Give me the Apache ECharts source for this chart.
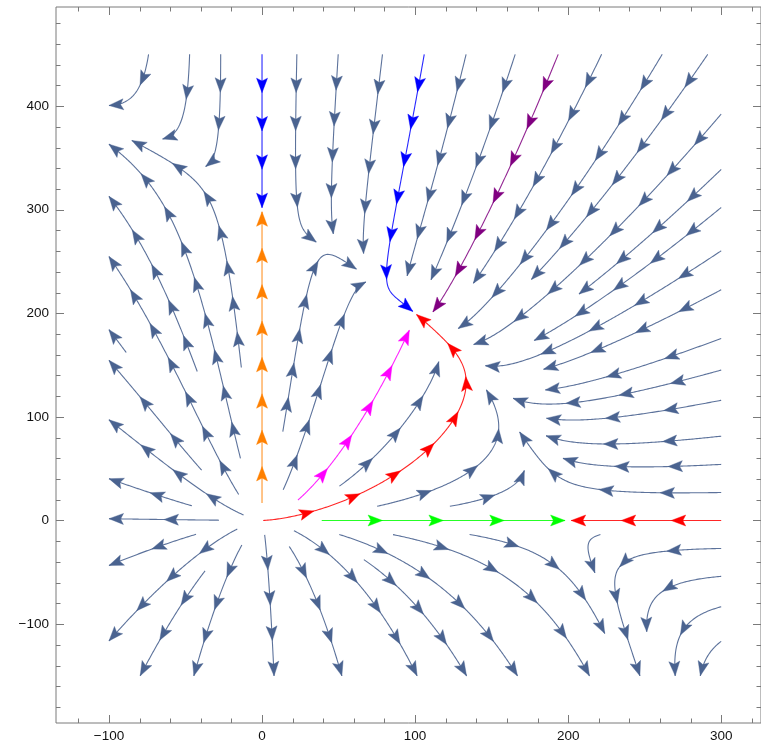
<!DOCTYPE html>
<html><head><meta charset="utf-8">
<script src="https://cdn.jsdelivr.net/npm/echarts@6/dist/echarts.min.js"></script>
<style>html,body{margin:0;padding:0;background:#fff}#chart{width:761px;height:748px}</style>
</head><body><div id="chart"></div>
<script>
// ---------------- data ----------------
const xTickValues = [-100, 0, 100, 200, 300];
const yTickValues = [-100, 0, 100, 200, 300, 400];
const xMinorTickValues = [-120, -80, -60, -40, -20, 20, 40, 60, 80, 120, 140, 160, 180, 220, 240, 260, 280, 320];
const yMinorTickValues = [-180, -160, -140, -120, -80, -60, -40, -20, 20, 40, 60, 80, 120, 140, 160, 180, 220, 240, 260, 280, 320, 340, 360, 380, 420, 440, 460, 480];
const xRange = [-134.6, 326.0];
const yRange = [-195.5, 495.7];
const fieldDomainX = [-100, 300];
const fieldDomainY = [-150, 450];
// competition field  x' = r1 x (1-(x+a12 y)/K1),  y' = r2 y (1-(y+a21 x)/K2)
const growthRates = [1, 1.5];
const carryingCapacities = [200, 300];
const competitionCoefs = [0.5, 1.0];
const equilibriaX = [0, 200, 0, 100];
const equilibriaY = [0, 0, 300, 200];
// highlighted stream points
const highlightSeedX = [0, 0, 106, 193.5, 26, 300, 39, 23.5];
const highlightSeedY = [17, 450, 450, 450, 6, 0, 0, 19.8];
const highlightBackLen = [0, 0, 0, 0, 40, 0, 0, 0];
const highlightMaxLen = [400, 400, 400, 262, 600, 200, 200, 180];
const highlightColors = ['#ff8000', '#0000ff', '#0000ff', '#800080', '#ff0000', '#ff0000', '#00ff00', '#ff00ff'];
const streamColor = '#4a6390';

// ---------------- streamline computation ----------------
const DX0 = fieldDomainX[0], DX1 = fieldDomainX[1], DY0 = fieldDomainY[0], DY1 = fieldDomainY[1];
const DSEP = 27, DTEST = 13.5, H = 1.0, EQ_GRAY = 8, ARROW_GAP = 36, MINLEN = 4;

function vel(x, y) {
  return [growthRates[0] * x * (1 - (x + competitionCoefs[0] * y) / carryingCapacities[0]),
          growthRates[1] * y * (1 - (y + competitionCoefs[1] * x) / carryingCapacities[1])];
}
function unitDir(x, y, s) {
  const v = vel(x, y); const m = Math.hypot(v[0], v[1]);
  if (m < 1e-12) return null;
  return [s * v[0] / m, s * v[1] / m];
}
function inside(x, y) { return x >= DX0 - 1e-9 && x <= DX1 + 1e-9 && y >= DY0 - 1e-9 && y <= DY1 + 1e-9; }
function nearEq(x, y, r) {
  for (let i = 0; i < equilibriaX.length; i++) {
    if (Math.hypot(x - equilibriaX[i], y - equilibriaY[i]) < r) return true;
  }
  return false;
}
const CELL = DSEP;
const hash = new Map();
function ck(i, j) { return i + ',' + j; }
function addLine(pts, id) {
  for (const p of pts) {
    const k = ck(Math.floor(p[0] / CELL), Math.floor(p[1] / CELL));
    let a = hash.get(k); if (!a) { a = []; hash.set(k, a); }
    a.push(p[0], p[1], id);
  }
}
function tooClose(x, y, d, selfId) {
  const ix = Math.floor(x / CELL), iy = Math.floor(y / CELL), d2 = d * d;
  for (let i = ix - 1; i <= ix + 1; i++) for (let j = iy - 1; j <= iy + 1; j++) {
    const a = hash.get(ck(i, j)); if (!a) continue;
    for (let k = 0; k < a.length; k += 3) {
      if (a[k + 2] === selfId) continue;
      const dx = a[k] - x, dy = a[k + 1] - y;
      if (dx * dx + dy * dy < d2) return true;
    }
  }
  return false;
}
function trace(sx, sy, sgn, maxLen, eqR, checkId) {
  const pts = [[sx, sy]]; let x = sx, y = sy, len = 0;
  while (len < maxLen) {
    const d1 = unitDir(x, y, sgn); if (!d1) break;
    const d2 = unitDir(x + 0.5 * H * d1[0], y + 0.5 * H * d1[1], sgn); if (!d2) break;
    if (d1[0] * d2[0] + d1[1] * d2[1] < 0.3) break;
    let nx = x + H * d2[0], ny = y + H * d2[1];
    if (!inside(nx, ny)) {
      let t = 1;
      if (nx < DX0) t = Math.min(t, (DX0 - x) / (nx - x));
      if (nx > DX1) t = Math.min(t, (DX1 - x) / (nx - x));
      if (ny < DY0) t = Math.min(t, (DY0 - y) / (ny - y));
      if (ny > DY1) t = Math.min(t, (DY1 - y) / (ny - y));
      nx = x + t * (nx - x); ny = y + t * (ny - y);
      if (checkId === null || !tooClose(nx, ny, DTEST, checkId)) pts.push([nx, ny]);
      break;
    }
    if (nearEq(nx, ny, eqR)) break;
    if (checkId !== null && tooClose(nx, ny, DTEST, checkId)) break;
    pts.push([nx, ny]); x = nx; y = ny; len += H;
  }
  return pts;
}
function lineLen(pts) { let L = 0; for (let i = 1; i < pts.length; i++) L += Math.hypot(pts[i][0] - pts[i - 1][0], pts[i][1] - pts[i - 1][1]); return L; }

// highlighted lines
const highlightLines = [];
for (let i = 0; i < highlightSeedX.length; i++) {
  const f = trace(highlightSeedX[i], highlightSeedY[i], 1, highlightMaxLen[i], 1.5, null);
  let pts = f;
  if (highlightBackLen[i] > 0) {
    const b = trace(highlightSeedX[i], highlightSeedY[i], -1, highlightBackLen[i], 0.6, null);
    pts = b.reverse().concat(f.slice(1));
  }
  highlightLines.push(pts);
  addLine(pts, i);
}

// evenly spaced gray streamlines
const grayLines = [];
let nextId = 100;
function trySeed(s) {
  if (!inside(s[0], s[1])) return null;
  if (nearEq(s[0], s[1], EQ_GRAY * 1.5)) return null;
  if (tooClose(s[0], s[1], DSEP * 0.99, -1)) return null;
  const id = nextId++;
  const f = trace(s[0], s[1], 1, 3000, EQ_GRAY, id);
  const b = trace(s[0], s[1], -1, 3000, EQ_GRAY, id);
  const pts = b.reverse().concat(f.slice(1));
  if (lineLen(pts) < MINLEN) return null;
  addLine(pts, id); grayLines.push(pts);
  return pts;
}
function seedsFrom(pts) {
  const out = [];
  for (let i = 0; i < pts.length; i += 3) {
    const a = pts[Math.max(0, i - 1)], b = pts[Math.min(pts.length - 1, i + 1)];
    let tx = b[0] - a[0], ty = b[1] - a[1]; const m = Math.hypot(tx, ty);
    if (m < 1e-9) continue; tx /= m; ty /= m;
    out.push([pts[i][0] - ty * DSEP, pts[i][1] + tx * DSEP], [pts[i][0] + ty * DSEP, pts[i][1] - tx * DSEP]);
  }
  return out;
}
function processQueue(queue) {
  while (queue.length) {
    const L = queue.shift();
    for (const s of seedsFrom(L)) { const r = trySeed(s); if (r) queue.push(r); }
  }
}
processQueue(highlightLines.slice());
for (let x = DX0; x <= DX1; x += DSEP / 3) for (let y = DY0; y <= DY1; y += DSEP / 3) {
  const r = trySeed([x, y]); if (r) processQueue([r]);
}

// arrows
function pointAt(pts, cum, s) {
  let i = 1; while (i < pts.length - 1 && cum[i] < s) i++;
  const seg = cum[i] - cum[i - 1]; const t = seg > 0 ? (s - cum[i - 1]) / seg : 0;
  return [pts[i - 1][0] + t * (pts[i][0] - pts[i - 1][0]), pts[i - 1][1] + t * (pts[i][1] - pts[i - 1][1])];
}
function arrowsFor(pts, colorIdx, out) {
  if (pts.length < 2) return;
  const cum = [0];
  for (let i = 1; i < pts.length; i++) cum.push(cum[i - 1] + Math.hypot(pts[i][0] - pts[i - 1][0], pts[i][1] - pts[i - 1][1]));
  const L = cum[cum.length - 1]; if (L <= 0.5) return;
  const n = Math.max(1, Math.round(L / ARROW_GAP));
  for (let k = 1; k <= n; k++) {
    const s = L * k / n;
    const tip = pointAt(pts, cum, s), back = pointAt(pts, cum, Math.max(0, s - 4));
    out.push([tip[0], tip[1], back[0], back[1], colorIdx]);
  }
}
const arrowData = [];
grayLines.forEach(p => arrowsFor(p, -1, arrowData));
highlightLines.forEach((p, i) => arrowsFor(p, i, arrowData));

const tickData = [];
xTickValues.forEach(v => tickData.push([v, 0, 1]));
xMinorTickValues.forEach(v => tickData.push([v, 0, 0]));
yTickValues.forEach(v => tickData.push([v, 1, 1]));
yMinorTickValues.forEach(v => tickData.push([v, 1, 0]));

function fmt(v) { return v < 0 ? '\u2212' + Math.abs(v) : String(v); }

// ---------------- chart ----------------
const chart = echarts.init(document.getElementById('chart'), null, { renderer: 'canvas' });
const AL = 14.5, AW = 11;
chart.setOption({
  animation: false,
  backgroundColor: '#ffffff',
  grid: { left: 56, right: -1, top: 7, bottom: 25, show: true, borderColor: '#7a7a7a', borderWidth: 1, backgroundColor: 'transparent' },
  xAxis: {
    type: 'value', min: xRange[0], max: xRange[1],
    axisLine: { show: false }, axisTick: { show: false }, splitLine: { show: false },
    axisLabel: { customValues: xTickValues, formatter: v => (xTickValues.includes(v) ? fmt(v) : ''), color: '#111', fontFamily: 'Liberation Sans, Arial, sans-serif', fontSize: 13.5, margin: 6 }
  },
  yAxis: {
    type: 'value', min: yRange[0], max: yRange[1],
    axisLine: { show: false }, axisTick: { show: false }, splitLine: { show: false },
    axisLabel: { customValues: yTickValues, formatter: v => (yTickValues.includes(v) ? fmt(v) : ''), color: '#111', fontFamily: 'Liberation Sans, Arial, sans-serif', fontSize: 13.5, margin: 7 }
  },
  series: [
    {
      type: 'lines', coordinateSystem: 'cartesian2d', polyline: true, silent: true,
      lineStyle: { color: streamColor, width: 1.1, opacity: 0.9 },
      data: grayLines.map(p => ({ coords: p }))
    },
    {
      type: 'lines', coordinateSystem: 'cartesian2d', polyline: true, silent: true,
      data: highlightLines.map((p, i) => ({ coords: p, lineStyle: { color: highlightColors[i], width: 1.1, opacity: 0.85 } }))
    },
    {
      type: 'custom', coordinateSystem: 'cartesian2d', silent: true, clip: false,
      data: arrowData,
      encode: { x: 0, y: 1 },
      renderItem: function (params, api) {
        const t = api.coord([api.value(0), api.value(1)]);
        const b = api.coord([api.value(2), api.value(3)]);
        let dx = t[0] - b[0], dy = t[1] - b[1]; const m = Math.hypot(dx, dy);
        if (m < 1e-6) return null;
        dx /= m; dy /= m; const nx = -dy, ny = dx;
        const ci = api.value(4);
        const col = ci < 0 ? streamColor : highlightColors[ci];
        return {
          type: 'polygon',
          shape: { points: [
            [t[0], t[1]],
            [t[0] - AL * dx + AW / 2 * nx, t[1] - AL * dy + AW / 2 * ny],
            [t[0] - AL * 0.8 * dx, t[1] - AL * 0.8 * dy],
            [t[0] - AL * dx - AW / 2 * nx, t[1] - AL * dy - AW / 2 * ny]
          ] },
          style: { fill: col, stroke: col, lineWidth: 0.4 }
        };
      }
    },
    {
      type: 'custom', coordinateSystem: 'cartesian2d', silent: true, clip: false,
      data: tickData,
      encode: { x: 0, y: 0 },
      renderItem: function (params, api) {
        const cs = params.coordSys;
        const v = api.value(0), ax = api.value(1), maj = api.value(2);
        const len = maj ? 8 : 4.5;
        const st = { stroke: '#7a7a7a', lineWidth: 1 };
        if (ax === 0) {
          const px = Math.round(api.coord([v, yRange[0]])[0]) + 0.5;
          const yb = cs.y + cs.height, yt = cs.y;
          return { type: 'group', children: [
            { type: 'line', shape: { x1: px, y1: yb, x2: px, y2: yb - len }, style: st },
            { type: 'line', shape: { x1: px, y1: yt, x2: px, y2: yt + len }, style: st }
          ] };
        } else {
          const py = Math.round(api.coord([xRange[0], v])[1]) + 0.5;
          const xl = cs.x, xr = cs.x + cs.width;
          return { type: 'group', children: [
            { type: 'line', shape: { x1: xl, y1: py, x2: xl + len, y2: py }, style: st },
            { type: 'line', shape: { x1: xr, y1: py, x2: xr - len, y2: py }, style: st }
          ] };
        }
      }
    }
  ]
});
</script>
</body></html>
